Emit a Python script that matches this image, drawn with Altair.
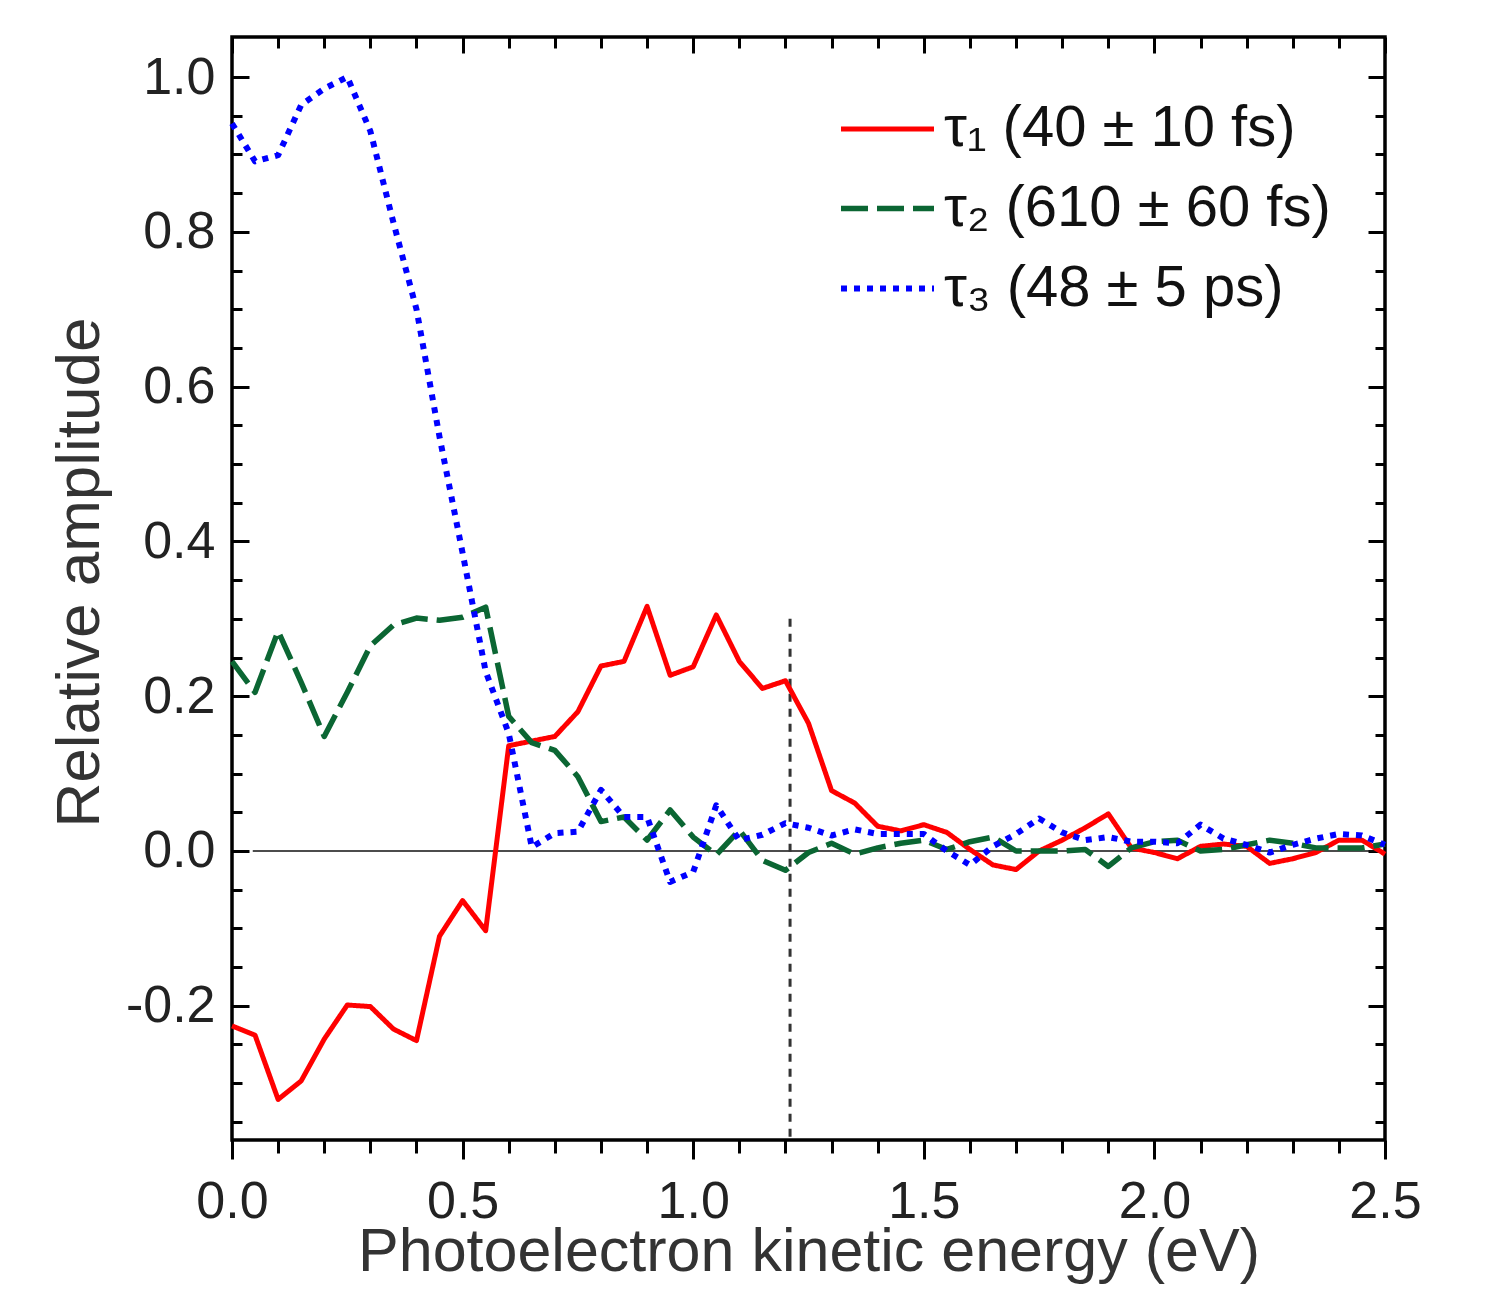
import altair as alt
import pandas as pd

# ---------------- data ----------------
energy = [0.00, 0.05, 0.10, 0.15, 0.20, 0.25, 0.30, 0.35, 0.40, 0.45,
          0.50, 0.55, 0.60, 0.65, 0.70, 0.75, 0.80, 0.85, 0.90, 0.95,
          1.00, 1.05, 1.10, 1.15, 1.20, 1.25, 1.30, 1.35, 1.40, 1.45,
          1.50, 1.55, 1.60, 1.65, 1.70, 1.75, 1.80, 1.85, 1.90, 1.95,
          2.00, 2.05, 2.10, 2.15, 2.20, 2.25, 2.30, 2.35, 2.40, 2.45, 2.50]

tau1 = [-0.226, -0.238, -0.321, -0.297, -0.243, -0.199, -0.201, -0.230, -0.245, -0.110,
        -0.064, -0.103, 0.136, 0.142, 0.148, 0.180, 0.239, 0.245, 0.316, 0.227,
        0.238, 0.305, 0.245, 0.210, 0.220, 0.165, 0.078, 0.062, 0.032, 0.026,
        0.034, 0.024, 0.002, -0.018, -0.024, 0.000, 0.014, 0.030, 0.048, 0.004,
        -0.002, -0.010, 0.006, 0.009, 0.006, -0.016, -0.010, -0.002, 0.014, 0.014, -0.004]

tau2 = [0.245, 0.205, 0.284, 0.218, 0.148, 0.205, 0.265, 0.292, 0.301, 0.298,
        0.302, 0.315, 0.174, 0.140, 0.130, 0.096, 0.038, 0.044, 0.014, 0.053,
        0.018, -0.005, 0.027, -0.012, -0.025, -0.002, 0.010, -0.004, 0.004, 0.010,
        0.014, 0.002, 0.012, 0.018, 0.000, 0.000, 0.000, 0.002, -0.020, 0.004,
        0.012, 0.014, 0.000, 0.002, 0.008, 0.014, 0.010, 0.004, 0.004, 0.004, 0.009]

tau3 = [0.940, 0.891, 0.899, 0.964, 0.985, 1.000, 0.930, 0.812, 0.700, 0.535,
        0.385, 0.232, 0.152, 0.005, 0.023, 0.025, 0.079, 0.044, 0.044, -0.040,
        -0.027, 0.059, 0.014, 0.021, 0.036, 0.030, 0.020, 0.028, 0.022, 0.022,
        0.022, 0.000, -0.018, 0.006, 0.022, 0.042, 0.024, 0.014, 0.018, 0.012,
        0.012, 0.010, 0.034, 0.016, 0.008, -0.002, 0.008, 0.016, 0.022, 0.020, 0.008]

series_labels = ["τ₁ (40 ± 10 fs)", "τ₂ (610 ± 60 fs)", "τ₃ (48 ± 5 ps)"]
series_colors = ["#ff0000", "#0b6633", "#0000ff"]
series_dashes = [[1, 0], [27, 9], [6, 7]]
series_widths = [5, 5.5, 6]

x_domain = [0, 2.5]
y_domain = [-0.3734, 1.0517]
x_major = [0.0, 0.5, 1.0, 1.5, 2.0, 2.5]
x_minor = [0.1, 0.2, 0.3, 0.4, 0.6, 0.7, 0.8, 0.9, 1.1, 1.2, 1.3, 1.4,
           1.6, 1.7, 1.8, 1.9, 2.1, 2.2, 2.3, 2.4]
y_major = [-0.2, 0.0, 0.2, 0.4, 0.6, 0.8, 1.0]
y_minor = [-0.35, -0.3, -0.25, -0.15, -0.1, -0.05, 0.05, 0.1, 0.15, 0.25, 0.3, 0.35,
           0.45, 0.5, 0.55, 0.65, 0.7, 0.75, 0.85, 0.9, 0.95]

zero_line_x = [0.045, 2.5]
zero_line_y = [0.0]
marker_x = [1.21]
marker_y = [0.30]
marker_y2 = [-0.3734]

x_title = "Photoelectron kinetic energy (eV)"
y_title = "Relative amplitude"

# ---------------- build ----------------
FONT = "Liberation Sans"
W, H = 1153, 1103

rows = []
for lab, vals in zip(series_labels, [tau1, tau2, tau3]):
    for e, v in zip(energy, vals):
        rows.append({"energy": e, "amp": v, "series": lab})
df = pd.DataFrame(rows)

zero_df = pd.DataFrame({"x1": [zero_line_x[0]], "x2": [zero_line_x[1]], "y": zero_line_y})
marker_df = pd.DataFrame({"x": marker_x, "y1": marker_y, "y2": marker_y2})

xs = alt.Scale(domain=x_domain, nice=False, zero=False)
ys = alt.Scale(domain=y_domain, nice=False, zero=False)

tick_common = dict(grid=False, domain=False, tickColor="black", tickWidth=3, title=None)

ax_bottom_major = alt.Axis(orient="bottom", values=x_major, tickSize=19, labels=True,
                           format=".1f", labelFont=FONT, labelFontSize=52, labelColor="#222",
                           labelPadding=17, labelFlush=False, labelOverlap=False,
                           grid=False, domain=False, tickColor="black", tickWidth=3,
                           title=x_title, titleFont=FONT, titleFontSize=61,
                           titleFontWeight="normal", titleColor="#333", titlePadding=-5)
ax_bottom_minor = alt.Axis(orient="bottom", values=x_minor, tickSize=13, labels=False, **tick_common)
ax_top_major = alt.Axis(orient="bottom", offset=-H, values=x_major, tickSize=16, labels=False, **tick_common)
ax_top_minor = alt.Axis(orient="bottom", offset=-H, values=x_minor, tickSize=11, labels=False, **tick_common)

ax_left_labels = alt.Axis(orient="left", values=y_major, ticks=False, tickSize=0,
                          labelExpr="datum.value < 0 ? '-' + format(-datum.value, '.1f') : format(datum.value, '.1f')",
                          labelFont=FONT, labelFontSize=52, labelColor="#222", labelPadding=17,
                          labelFlush=False, labelOverlap=False, grid=False, domain=False,
                          title=y_title, titleFont=FONT, titleFontSize=62, titleY=535,
                          titleFontWeight="normal", titleColor="#333", titlePadding=14)
ax_left_major = alt.Axis(orient="right", offset=-W, values=y_major, tickSize=17, labels=False, **tick_common)
ax_left_minor = alt.Axis(orient="right", offset=-W, values=y_minor, tickSize=10, labels=False, **tick_common)
ax_right_major = alt.Axis(orient="left", offset=-W, values=y_major, tickSize=17, labels=False, **tick_common)
ax_right_minor = alt.Axis(orient="left", offset=-W, values=y_minor, tickSize=10, labels=False, **tick_common)

legend = alt.Legend(title=None, orient="none", legendX=606, legendY=43,
                    symbolType="stroke", symbolSize=8649, symbolStrokeWidth=5,
                    labelFont=FONT, labelFontSize=58, labelColor="#111",
                    labelLimit=900, labelOffset=7, rowPadding=1, padding=0)

base = alt.Chart(df)

lines = base.mark_line(strokeCap="butt", strokeJoin="round").encode(
    x=alt.X("energy:Q", scale=xs, axis=ax_bottom_major),
    y=alt.Y("amp:Q", scale=ys, axis=ax_left_labels),
    color=alt.Color("series:N", scale=alt.Scale(domain=series_labels, range=series_colors),
                    legend=legend, sort=series_labels),
    strokeDash=alt.StrokeDash("series:N", scale=alt.Scale(domain=series_labels, range=series_dashes),
                              legend=legend, sort=series_labels),
    strokeWidth=alt.StrokeWidth("series:N",
                                scale=alt.Scale(type="ordinal", domain=series_labels, range=series_widths),
                                legend=None),
)

def carrier(xaxis, yaxis):
    return base.mark_line(strokeOpacity=0).encode(
        x=alt.X("energy:Q", scale=xs, axis=xaxis),
        y=alt.Y("amp:Q", scale=ys, axis=yaxis),
        detail="series:N",
    )

c1 = carrier(ax_bottom_minor, ax_left_major)
c2 = carrier(ax_top_major, ax_left_minor)
c3 = carrier(ax_top_minor, ax_right_major)
c4 = carrier(None, ax_right_minor)

zero_rule = alt.Chart(zero_df).mark_rule(color="#111", strokeWidth=1.5).encode(
    x=alt.X("x1:Q", scale=xs, axis=None),
    x2="x2:Q",
    y=alt.Y("y:Q", scale=ys, axis=None),
)

marker_rule = alt.Chart(marker_df).mark_rule(color="#333", strokeWidth=3, strokeDash=[8, 7]).encode(
    x=alt.X("x:Q", scale=xs, axis=None),
    y=alt.Y("y1:Q", scale=ys, axis=None),
    y2="y2:Q",
)

chart = alt.layer(zero_rule, marker_rule, c1, c2, c3, c4, lines).resolve_axis(
    x="independent", y="independent"
).properties(
    width=W, height=H,
    autosize="none",
    padding={"left": 224, "top": 29, "right": 90, "bottom": 146},
    background="white",
).configure_view(stroke="black", strokeWidth=3.5)

chart.save("out.html", embed_options={"renderer": "svg", "actions": False})
